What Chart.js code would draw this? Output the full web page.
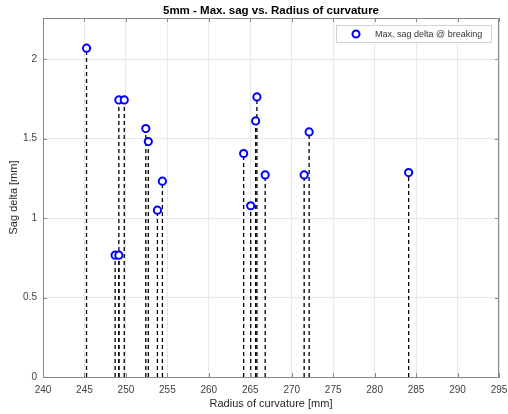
<!DOCTYPE html>
<html>
<head>
<meta charset="utf-8">
<script src="https://cdn.jsdelivr.net/npm/chart.js@4/dist/chart.umd.min.js"></script>
<style>
  html, body { margin: 0; padding: 0; background: #ffffff; }
  #wrap { width: 508px; height: 414px; }
</style>
</head>
<body>
<div id="wrap"><canvas id="c" width="508" height="414"></canvas></div>
<script>
// Radius of curvature [mm] and the max. sag delta [mm] measured at breaking
const radius = [245.25, 248.7, 249.15, 249.15, 249.8, 252.4, 252.7, 254.4, 253.8,
                264.2, 265.05, 265.65, 265.8, 266.8, 271.5, 272.1, 284.1];
const sagDelta = [2.07, 0.767, 0.767, 1.744, 1.744, 1.564, 1.482, 1.233, 1.05,
                  1.407, 1.078, 1.612, 1.763, 1.272, 1.272, 1.543, 1.287];
const xTicks = [240, 245, 250, 255, 260, 265, 270, 275, 280, 285, 290, 295];
const yTicks = [0, 0.5, 1, 1.5, 2];
const seriesLabel = 'Max. sag delta @ breaking';
const chartTitle = '5mm - Max. sag vs. Radius of curvature';

const FONT = '"Liberation Sans", Arial, Helvetica, sans-serif';
const BOX = '#8a8a8a';

const points = radius.map((r, i) => ({ x: r, y: sagDelta[i] }));

// One dashed stem per measurement, from the baseline up to the marker
const stems = radius.map((r, i) => ({
  type: 'line',
  data: [{ x: r, y: 0 }, { x: r, y: sagDelta[i] }],
  borderColor: '#000000',
  borderWidth: 1.3,
  borderDash: [4, 3],
  pointRadius: 0,
  fill: false,
  order: 2
}));

// Box on the top/right edges, inward tick marks, the title centred over the
// plot area and the boxed legend
const frame = {
  id: 'frame',
  afterDatasetsDraw(chart) {
    const { ctx, chartArea: a, scales } = chart;
    ctx.save();
    ctx.strokeStyle = BOX;
    ctx.lineWidth = 1;
    ctx.beginPath();
    ctx.moveTo(a.left, a.top + 0.5); ctx.lineTo(a.right, a.top + 0.5);
    ctx.moveTo(a.right - 0.5, a.top); ctx.lineTo(a.right - 0.5, a.bottom);
    const tl = 4;
    xTicks.forEach(v => {
      const px = Math.round(scales.x.getPixelForValue(v)) + 0.5;
      ctx.moveTo(px, a.bottom); ctx.lineTo(px, a.bottom - tl);
      ctx.moveTo(px, a.top); ctx.lineTo(px, a.top + tl);
    });
    yTicks.forEach(v => {
      const py = Math.round(scales.y.getPixelForValue(v)) + 0.5;
      ctx.moveTo(a.left, py); ctx.lineTo(a.left + tl, py);
      ctx.moveTo(a.right, py); ctx.lineTo(a.right - tl, py);
    });
    ctx.stroke();
    ctx.restore();
  },
  afterDraw(chart) {
    const { ctx, chartArea: a } = chart;
    const ds = chart.data.datasets[0];
    ctx.save();
    // title
    ctx.fillStyle = '#000000';
    ctx.font = 'bold 11.5px ' + FONT;
    ctx.textAlign = 'center';
    ctx.textBaseline = 'middle';
    ctx.fillText(chartTitle, (a.left + a.right) / 2, 11);
    // legend
    const w = 155, h = 17;
    const x0 = a.right - 8 - w, y0 = a.top + 7;
    ctx.fillStyle = '#ffffff';
    ctx.fillRect(x0, y0, w, h);
    ctx.strokeStyle = '#d2d2d2';
    ctx.lineWidth = 1;
    ctx.strokeRect(x0 + 0.5, y0 + 0.5, w, h);
    ctx.beginPath();
    ctx.arc(x0 + 20, y0 + h / 2 + 0.5, 3.5, 0, Math.PI * 2);
    ctx.fillStyle = '#ffffff';
    ctx.fill();
    ctx.lineWidth = 2;
    ctx.strokeStyle = ds.borderColor;
    ctx.stroke();
    ctx.fillStyle = '#333333';
    ctx.font = '9px ' + FONT;
    ctx.textBaseline = 'middle';
    ctx.textAlign = 'left';
    ctx.fillText(ds.label, x0 + 39, y0 + h / 2 + 1);
    ctx.restore();
  }
};

new Chart(document.getElementById('c'), {
  type: 'scatter',
  data: {
    datasets: [
      {
        label: seriesLabel,
        data: points,
        borderColor: '#0000ff',
        backgroundColor: '#ffffff',
        borderWidth: 2,
        pointRadius: 3.6,
        pointHoverRadius: 3.6,
        order: 1
      },
      ...stems
    ]
  },
  options: {
    responsive: false,
    animation: false,
    events: [],
    layout: { padding: { left: 0, right: 9, top: 18, bottom: 0 } },
    plugins: {
      legend: { display: false },
      tooltip: { enabled: false },
      title: { display: false }
    },
    scales: {
      x: {
        type: 'linear',
        min: 240,
        max: 295,
        afterBuildTicks: s => { s.ticks = xTicks.map(v => ({ value: v })); },
        afterFit: s => { s.height = 37; s.paddingLeft = 0; s.paddingRight = 0; },
        grid: { color: '#e8e8e8', lineWidth: 1, drawTicks: false },
        border: { color: BOX, width: 1 },
        ticks: {
          color: '#404040',
          font: { family: FONT, size: 10 },
          padding: 7,
          maxRotation: 0,
          autoSkip: false,
          callback: v => String(v)
        },
        title: {
          display: true,
          text: 'Radius of curvature [mm]',
          color: '#262626',
          font: { family: FONT, size: 11 },
          padding: { top: 0, bottom: 3 }
        }
      },
      y: {
        type: 'linear',
        min: 0,
        max: 2.26,
        afterBuildTicks: s => { s.ticks = yTicks.map(v => ({ value: v })); },
        afterFit: s => { s.width = 43; s.paddingTop = 0; s.paddingBottom = 0; },
        grid: { color: '#e8e8e8', lineWidth: 1, drawTicks: false },
        border: { color: BOX, width: 1 },
        ticks: {
          color: '#404040',
          font: { family: FONT, size: 10 },
          padding: 6,
          autoSkip: false,
          callback: v => String(v)
        },
        title: {
          display: true,
          text: 'Sag delta [mm]',
          color: '#262626',
          font: { family: FONT, size: 11 },
          padding: { top: 7, bottom: 0 }
        }
      }
    }
  },
  plugins: [frame]
});
</script>
</body>
</html>
